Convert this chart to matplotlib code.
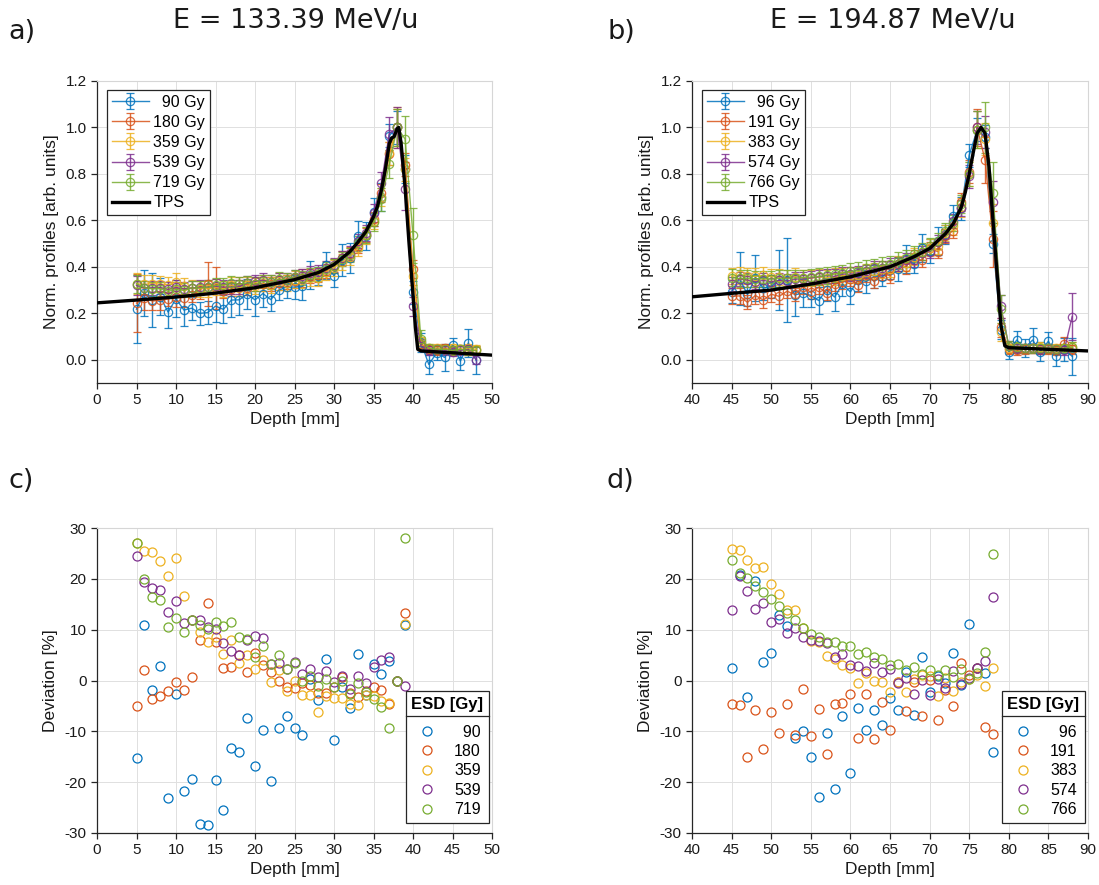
import matplotlib
matplotlib.use('Agg')
import matplotlib.pyplot as plt
from matplotlib.lines import Line2D
import numpy as np

plt.rcParams['font.family'] = ['Liberation Sans', 'DejaVu Sans']
plt.rcParams['axes.unicode_minus'] = False

W, H = 1099, 885
colors = ['#0072BD', '#D95319', '#EDB120', '#7E2F8E', '#77AC30']

# ---------------- panel a data ----------------
depth_a = list(range(5, 49))
dose_a = ['\u200790 Gy', '180 Gy', '359 Gy', '539 Gy', '719 Gy']
prof_a_90 = [0.218, 0.287, 0.257, 0.272, 0.205, 0.263, 0.214, 0.222, 0.200, 0.203, 0.231, 0.217, 0.257, 0.258, 0.282,
             0.258, 0.285, 0.259, 0.299, 0.314, 0.313, 0.316, 0.365, 0.361, 0.406, 0.362, 0.429, 0.439, 0.532, 0.534,
             0.635, 0.700, 0.965, 1.0, 0.82, 0.29, 0.075, -0.02, 0.03, 0.01, 0.065, -0.005, 0.072, -0.003]
prof_a_180 = [0.244, 0.264, 0.253, 0.256, 0.262, 0.269, 0.268, 0.278, 0.301, 0.326, 0.309, 0.298, 0.304, 0.315, 0.310,
              0.327, 0.326, 0.328, 0.330, 0.333, 0.340, 0.352, 0.361, 0.366, 0.381, 0.405, 0.438, 0.454, 0.489, 0.538,
              0.607, 0.717, 0.887, 1.0, 0.84, 0.39, 0.07, 0.045, 0.04, 0.05, 0.04, 0.045, 0.04, 0.04]
prof_a_359 = [0.327, 0.325, 0.328, 0.326, 0.322, 0.335, 0.319, 0.309, 0.306, 0.305, 0.312, 0.306, 0.320, 0.310, 0.321,
              0.317, 0.329, 0.322, 0.337, 0.330, 0.345, 0.344, 0.354, 0.352, 0.378, 0.396, 0.420, 0.444, 0.480, 0.535,
              0.597, 0.701, 0.888, 1.0, 0.82, 0.36, 0.08, 0.05, 0.05, 0.045, 0.05, 0.045, 0.05, 0.045]
prof_a_539 = [0.320, 0.309, 0.310, 0.311, 0.303, 0.312, 0.304, 0.309, 0.312, 0.313, 0.316, 0.313, 0.313, 0.315, 0.329,
              0.337, 0.343, 0.334, 0.342, 0.345, 0.358, 0.359, 0.372, 0.377, 0.397, 0.409, 0.439, 0.458, 0.510, 0.547,
              0.631, 0.760, 0.974, 1.0, 0.735, 0.23, 0.06, 0.04, 0.045, 0.04, 0.035, 0.04, 0.045, 0.0]
prof_a_719 = [0.327, 0.311, 0.305, 0.306, 0.295, 0.303, 0.299, 0.309, 0.309, 0.312, 0.320, 0.322, 0.330, 0.326, 0.330,
              0.325, 0.337, 0.334, 0.347, 0.344, 0.357, 0.354, 0.367, 0.371, 0.391, 0.405, 0.435, 0.453, 0.502, 0.537,
              0.593, 0.691, 0.843, 1.0, 0.95, 0.535, 0.09, 0.05, 0.045, 0.045, 0.04, 0.045, 0.04, 0.04]
err_a_90 = [0.145, 0.10, 0.115, 0.08, 0.07, 0.08, 0.07, 0.05, 0.05, 0.05, 0.07, 0.06, 0.075, 0.065, 0.065, 0.07, 0.06,
            0.05, 0.04, 0.05, 0.05, 0.06, 0.06, 0.04, 0.06, 0.05, 0.07, 0.065, 0.065, 0.06, 0.06, 0.06, 0.05, 0.07,
            0.06, 0.05, 0.04, 0.04, 0.03, 0.06, 0.03, 0.04, 0.06, 0.06]
err_a_180 = [0.125, 0.05, 0.04, 0.04, 0.03, 0.04, 0.04, 0.03, 0.04, 0.095, 0.09, 0.03, 0.03, 0.04, 0.03, 0.03, 0.03,
             0.03, 0.03, 0.03, 0.03, 0.04, 0.03, 0.03, 0.03, 0.03, 0.03, 0.03, 0.03, 0.03, 0.03, 0.04, 0.05, 0.08,
             0.05, 0.04, 0.02, 0.02, 0.02, 0.02, 0.02, 0.02, 0.02, 0.02]
err_a_359 = [0.045, 0.04, 0.035, 0.035, 0.035, 0.04, 0.035, 0.035, 0.035, 0.035, 0.035, 0.035, 0.035, 0.035, 0.035,
             0.035, 0.035, 0.035, 0.035, 0.035, 0.035, 0.035, 0.035, 0.035, 0.035, 0.035, 0.035, 0.035, 0.035, 0.035,
             0.035, 0.04, 0.05, 0.09, 0.05, 0.04, 0.02, 0.02, 0.02, 0.02, 0.02, 0.02, 0.02, 0.02]
err_a_539 = [0.04, 0.03, 0.03, 0.03, 0.03, 0.03, 0.03, 0.03, 0.03, 0.03, 0.03, 0.03, 0.03, 0.03, 0.03, 0.03, 0.03,
             0.03, 0.03, 0.03, 0.03, 0.03, 0.03, 0.03, 0.03, 0.03, 0.03, 0.03, 0.03, 0.035, 0.04, 0.05, 0.07, 0.09,
             0.09, 0.04, 0.02, 0.02, 0.02, 0.02, 0.02, 0.02, 0.02, 0.02]
err_a_719 = [0.04, 0.03, 0.03, 0.03, 0.03, 0.03, 0.03, 0.03, 0.03, 0.03, 0.03, 0.03, 0.03, 0.03, 0.03, 0.03, 0.03,
             0.03, 0.03, 0.03, 0.03, 0.03, 0.03, 0.03, 0.03, 0.03, 0.03, 0.03, 0.03, 0.035, 0.04, 0.05, 0.06, 0.08,
             0.10, 0.12, 0.04, 0.02, 0.02, 0.02, 0.02, 0.02, 0.02, 0.02]
tps_a_depth = [0, 5, 10, 15, 20, 25, 28, 30, 32, 33, 34, 35, 35.5, 36, 36.5, 37, 37.3, 37.6, 38, 38.2, 38.5, 39, 39.5,
               40, 40.3, 40.6, 41, 45, 50]
tps_a = [0.245, 0.257, 0.27, 0.287, 0.31, 0.345, 0.375, 0.41, 0.465, 0.505, 0.55, 0.615, 0.66, 0.73, 0.82, 0.93,
         0.955, 0.96, 0.995, 1.0, 0.93, 0.74, 0.5, 0.28, 0.14, 0.045, 0.038, 0.03, 0.02]

# ---------------- panel b data ----------------
depth_b = list(range(45, 89))
dose_b = ['\u200796 Gy', '191 Gy', '383 Gy', '574 Gy', '766 Gy']
prof_b_96 = [0.293, 0.349, 0.281, 0.352, 0.308, 0.316, 0.344, 0.343, 0.279, 0.288, 0.277, 0.255, 0.302, 0.270, 0.326,
             0.292, 0.345, 0.337, 0.359, 0.356, 0.386, 0.389, 0.434, 0.413, 0.482, 0.468, 0.510, 0.540, 0.618, 0.652,
             0.88, 0.99, 0.96, 0.50, 0.13, 0.035, 0.085, 0.05, 0.085, 0.035, 0.08, 0.015, 0.045, 0.015]
prof_b_191 = [0.273, 0.275, 0.247, 0.277, 0.257, 0.282, 0.273, 0.295, 0.281, 0.315, 0.290, 0.312, 0.288, 0.327, 0.334,
              0.347, 0.323, 0.363, 0.337, 0.374, 0.361, 0.412, 0.401, 0.442, 0.428, 0.479, 0.466, 0.533, 0.556, 0.679,
              0.81, 1.0, 0.86, 0.52, 0.14, 0.045, 0.04, 0.045, 0.05, 0.045, 0.045, 0.04, 0.07, 0.045]
prof_b_383 = [0.360, 0.363, 0.360, 0.359, 0.363, 0.357, 0.357, 0.353, 0.358, 0.353, 0.351, 0.356, 0.353, 0.358, 0.361,
              0.366, 0.364, 0.378, 0.381, 0.389, 0.391, 0.412, 0.417, 0.444, 0.465, 0.483, 0.489, 0.546, 0.574, 0.656,
              0.80, 0.99, 0.95, 0.59, 0.12, 0.05, 0.055, 0.05, 0.05, 0.055, 0.05, 0.05, 0.05, 0.055]
prof_b_574 = [0.325, 0.349, 0.343, 0.335, 0.342, 0.335, 0.342, 0.339, 0.347, 0.348, 0.352, 0.357, 0.362, 0.359, 0.369,
              0.368, 0.375, 0.380, 0.394, 0.396, 0.409, 0.411, 0.429, 0.431, 0.460, 0.466, 0.507, 0.535, 0.597, 0.652,
              0.79, 1.0, 0.98, 0.68, 0.23, 0.06, 0.05, 0.05, 0.05, 0.045, 0.05, 0.045, 0.04, 0.186]
prof_b_766 = [0.354, 0.350, 0.350, 0.349, 0.349, 0.348, 0.350, 0.351, 0.352, 0.353, 0.356, 0.359, 0.363, 0.369, 0.373,
              0.381, 0.384, 0.394, 0.399, 0.407, 0.412, 0.427, 0.436, 0.455, 0.466, 0.489, 0.511, 0.554, 0.590, 0.671,
              0.80, 0.99, 1.0, 0.72, 0.22, 0.06, 0.055, 0.05, 0.05, 0.05, 0.05, 0.045, 0.05, 0.055]
err_b_96 = [0.05, 0.115, 0.05, 0.10, 0.05, 0.05, 0.13, 0.18, 0.09, 0.06, 0.05, 0.06, 0.05, 0.06, 0.05, 0.05, 0.05,
            0.05, 0.05, 0.04, 0.04, 0.05, 0.06, 0.04, 0.06, 0.05, 0.06, 0.04, 0.05, 0.05, 0.05, 0.05, 0.05, 0.04,
            0.04, 0.03, 0.04, 0.04, 0.05, 0.04, 0.04, 0.04, 0.05, 0.08]
err_b_191 = [0.035, 0.035, 0.03, 0.035, 0.035, 0.035, 0.035, 0.03, 0.03, 0.03, 0.03, 0.03, 0.03, 0.03, 0.03, 0.03,
             0.03, 0.03, 0.03, 0.03, 0.03, 0.03, 0.03, 0.03, 0.03, 0.03, 0.03, 0.03, 0.03, 0.04, 0.05, 0.08, 0.10,
             0.12, 0.04, 0.02, 0.02, 0.02, 0.02, 0.02, 0.02, 0.02, 0.03, 0.02]
err_b_383 = [0.035, 0.035, 0.035, 0.035, 0.035, 0.035, 0.035, 0.035, 0.035, 0.035, 0.035, 0.035, 0.035, 0.035, 0.035,
             0.035, 0.035, 0.035, 0.035, 0.035, 0.035, 0.035, 0.035, 0.035, 0.035, 0.035, 0.035, 0.035, 0.035, 0.04,
             0.05, 0.08, 0.07, 0.08, 0.04, 0.02, 0.02, 0.02, 0.02, 0.02, 0.02, 0.02, 0.02, 0.02]
err_b_574 = [0.03, 0.03, 0.03, 0.03, 0.03, 0.03, 0.03, 0.03, 0.03, 0.03, 0.03, 0.03, 0.03, 0.03, 0.03, 0.03, 0.03,
             0.03, 0.03, 0.03, 0.03, 0.03, 0.03, 0.03, 0.03, 0.03, 0.03, 0.03, 0.03, 0.035, 0.05, 0.07, 0.07, 0.09,
             0.05, 0.02, 0.02, 0.02, 0.02, 0.02, 0.02, 0.02, 0.02, 0.10]
err_b_766 = [0.035, 0.035, 0.035, 0.035, 0.035, 0.035, 0.035, 0.035, 0.035, 0.035, 0.035, 0.035, 0.035, 0.035, 0.035,
             0.035, 0.035, 0.035, 0.035, 0.035, 0.035, 0.035, 0.035, 0.035, 0.035, 0.035, 0.035, 0.035, 0.035, 0.04,
             0.05, 0.08, 0.11, 0.13, 0.06, 0.02, 0.02, 0.02, 0.02, 0.02, 0.02, 0.02, 0.02, 0.02]
tps_b_depth = [40, 45, 50, 55, 60, 65, 68, 70, 72, 73, 74, 74.5, 75, 75.5, 76, 76.5, 77, 77.5, 78, 78.5, 79, 79.5,
               80, 85, 90]
tps_b = [0.271, 0.286, 0.30, 0.326, 0.357, 0.40, 0.443, 0.479, 0.543, 0.586, 0.657, 0.72, 0.80, 0.89, 0.975, 1.0,
         0.975, 0.83, 0.60, 0.38, 0.15, 0.06, 0.052, 0.045, 0.038]

# ---------------- panel c data (deviation %) ----------------
depth_c = list(range(5, 40))
esd_c = ['\u200790', '180', '359', '539', '719']
dev_c_90 = [-15.3, 10.9, -1.8, 2.9, -23.1, -2.6, -21.7, -19.4, -28.2, -28.4, -19.5, -25.4, -13.2, -14.0, -7.4, -16.9,
            -9.7, -19.8, -9.4, -6.9, -9.4, -10.7, 0.2, -3.8, 4.2, -11.7, -1.3, -5.5, 5.3, -2.9, 3.3, 1.3, 3.8, 0.0, 10.9]
dev_c_180 = [-5.1, 2.1, -3.6, -3.1, -2.0, -0.2, -1.8, 0.7, 8.0, 15.3, 7.6, 2.5, 2.6, 5.1, 1.7, 5.5, 3.1, 1.6, 0.0,
             -1.3, -1.4, -0.5, -0.8, -2.4, -2.4, -1.3, 0.7, -2.4, -3.2, -2.1, -1.3, -1.8, -4.6, 0.0, 13.3]
dev_c_359 = [27.1, 25.4, 25.2, 23.6, 20.6, 24.1, 16.7, 11.9, 9.6, 7.6, 8.6, 5.3, 8.0, 3.4, 5.1, 2.3, 4.0, -0.3, 2.0,
             -2.1, 0.0, -2.9, -2.8, -6.1, -3.1, -3.5, -3.5, -4.6, -4.9, -2.8, -3.0, -4.0, -4.5, 0.0, 11.1]
dev_c_539 = [24.4, 19.4, 18.2, 17.8, 13.4, 15.6, 11.3, 11.9, 11.9, 10.5, 10.1, 7.4, 5.9, 5.0, 7.9, 8.8, 8.4, 3.3, 3.5,
             2.3, 3.7, 1.3, 2.3, 0.6, 1.8, -0.3, 0.9, -1.6, 0.9, -0.5, 2.6, 4.1, 4.7, 0.0, -1.1]
dev_c_719 = [27.1, 19.9, 16.5, 15.8, 10.5, 12.3, 9.6, 11.9, 10.9, 10.2, 11.5, 10.7, 11.5, 8.5, 8.2, 4.7, 6.8, 3.3, 5.1,
             2.2, 3.4, -0.1, 0.9, -1.0, 0.2, -1.3, 0.0, -2.6, -0.5, -2.3, -3.6, -5.3, -9.4, 0.0, 28.0]

# ---------------- panel d data (deviation %) ----------------
depth_d = list(range(45, 79))
esd_d = ['\u200796', '191', '383', '574', '766']
dev_d_96 = [2.4, 20.8, -3.3, 19.6, 3.6, 5.4, 12.9, 10.8, -11.3, -10.0, -15.1, -22.9, -10.3, -21.4, -6.9, -18.2, -5.5,
            -9.7, -5.9, -8.7, -3.5, -5.9, 1.7, -6.7, 4.7, -2.2, 0.9, -0.5, 5.5, -0.8, 11.1, 2.5, 1.4, -14.0]
dev_d_191 = [-4.6, -4.9, -15.1, -5.9, -13.5, -6.1, -10.4, -4.7, -10.7, -1.6, -10.9, -5.7, -14.4, -4.7, -4.5, -2.7,
             -11.4, -2.7, -11.5, -4.2, -9.7, -0.3, -6.0, -0.3, -6.9, 0.1, -7.8, -1.9, -5.1, 3.4, 1.1, 2.5, -9.1, -10.5]
dev_d_383 = [25.8, 25.6, 23.8, 22.1, 22.3, 19.0, 17.0, 13.9, 13.8, 10.3, 7.8, 7.5, 4.8, 4.3, 3.0, 2.4, -0.4, 1.4,
             -0.1, -0.3, -2.2, -0.2, -2.3, 0.2, 1.0, 0.9, -3.1, 0.5, -2.1, -0.2, 0.2, 1.0, -1.1, 2.4]
dev_d_574 = [13.8, 20.6, 17.7, 14.1, 15.3, 11.5, 12.1, 9.4, 10.3, 8.6, 8.0, 7.8, 7.3, 4.6, 5.3, 3.1, 2.8, 1.8, 3.5,
             1.6, 2.2, -0.5, 0.5, -2.6, 0.1, -2.8, 0.3, -1.5, 1.8, -0.7, 0.5, 2.5, 3.9, 16.5]
dev_d_766 = [23.8, 21.1, 20.2, 18.6, 17.4, 16.0, 14.7, 13.3, 11.9, 10.3, 9.2, 8.6, 7.6, 7.6, 6.7, 6.7, 5.3, 5.6, 4.7,
             4.3, 3.0, 3.3, 2.0, 2.6, 1.3, 2.1, 1.1, 2.1, 0.7, 2.2, 0.2, 1.4, 5.7, 24.8]

TICK_FS = 11
LABEL_FS = 12.5
LEG_FS = 11.5
DARK = '#262626'


def style(ax):
    ax.grid(True, color='#e0e0e0', lw=0.7)
    ax.set_axisbelow(True)
    for s in ['top', 'right']:
        ax.spines[s].set_color('#d6d6d6')
        ax.spines[s].set_linewidth(0.8)
    for s in ['left', 'bottom']:
        ax.spines[s].set_color(DARK)
        ax.spines[s].set_linewidth(0.9)
    ax.tick_params(direction='out', length=4, width=0.9, colors=DARK, labelsize=TICK_FS,
                   labelcolor='#1a1a1a', top=False, right=False)


def box(l, t, r, b):
    return [l / W, 1 - b / H, (r - l) / W, (b - t) / H]


fig = plt.figure(figsize=(W / 100, H / 100), dpi=100)
axA = fig.add_axes(box(97, 81, 492, 383))
axB = fig.add_axes(box(692, 81, 1088, 383))
axC = fig.add_axes(box(97, 528, 492, 833))
axD = fig.add_axes(box(692, 528, 1088, 833))


def profile_panel(ax, depth, profs, errs, labels, tdepth, tvals, xlim):
    handles = []
    for p, e, c, lab in zip(profs, errs, colors, labels):
        h = ax.errorbar(depth, p, yerr=e, fmt='-o', color=c, mfc='none', ms=6, mew=0.9, lw=1.0,
                        elinewidth=1.0, capsize=2.8, capthick=1.0, alpha=0.85, label=lab)
        handles.append(h)
    t, = ax.plot(tdepth, tvals, color='black', lw=2.4, label='TPS', zorder=5)
    handles.append(t)
    style(ax)
    ax.set_xlim(*xlim)
    ax.set_ylim(-0.1, 1.2)
    ax.set_xticks(np.arange(xlim[0], xlim[1] + 1, 5))
    ax.set_yticks(np.arange(0, 1.21, 0.2))
    ax.set_yticklabels([f'{v:.1f}' for v in np.arange(0, 1.21, 0.2)])
    ax.set_xlabel('Depth [mm]', fontsize=LABEL_FS, color='#1a1a1a', labelpad=3)
    ax.set_ylabel('Norm. profiles [arb. units]', fontsize=LABEL_FS, color='#1a1a1a', labelpad=5)
    leg = ax.legend(handles=handles, loc='upper left', bbox_to_anchor=(10 / 395, 1 - 9 / 302),
                    borderaxespad=0, fontsize=LEG_FS, handlelength=2.3, handletextpad=0.3,
                    labelspacing=0.32, borderpad=0.3, fancybox=False, framealpha=1, edgecolor=DARK)
    leg.get_frame().set_linewidth(0.9)


def dev_panel(ax, depth, devs, labels, xlim):
    for d, c, lab in zip(devs, colors, labels):
        ax.plot(depth, d, 'o', mfc='none', color=c, ms=6.5, mew=0.9, label=lab)
    style(ax)
    ax.set_xlim(*xlim)
    ax.set_ylim(-30, 30)
    ax.set_xticks(np.arange(xlim[0], xlim[1] + 1, 5))
    ax.set_yticks(np.arange(-30, 31, 10))
    ax.set_xlabel('Depth [mm]', fontsize=LABEL_FS, color='#1a1a1a', labelpad=3)
    ax.set_ylabel('Deviation [%]', fontsize=LABEL_FS, color='#1a1a1a', labelpad=5)
    leg = ax.legend(loc='lower right', bbox_to_anchor=(1 - 3 / 395, 10 / 305), borderaxespad=0,
                    fontsize=LEG_FS, title='ESD [Gy]',
                    title_fontproperties={'weight': 'bold', 'size': LEG_FS + 0.5},
                    handlelength=1.6, handletextpad=0.9, labelspacing=0.28, borderpad=0.35,
                    numpoints=1, fancybox=False, framealpha=1, edgecolor=DARK)
    leg.get_frame().set_linewidth(0.9)
    leg._legend_box.sep = 9
    return leg


profile_panel(axA, depth_a, [prof_a_90, prof_a_180, prof_a_359, prof_a_539, prof_a_719],
              [err_a_90, err_a_180, err_a_359, err_a_539, err_a_719], dose_a, tps_a_depth, tps_a, (0, 50))
profile_panel(axB, depth_b, [prof_b_96, prof_b_191, prof_b_383, prof_b_574, prof_b_766],
              [err_b_96, err_b_191, err_b_383, err_b_574, err_b_766], dose_b, tps_b_depth, tps_b, (40, 90))
legC = dev_panel(axC, depth_c, [dev_c_90, dev_c_180, dev_c_359, dev_c_539, dev_c_719], esd_c, (0, 50))
legD = dev_panel(axD, depth_d, [dev_d_96, dev_d_191, dev_d_383, dev_d_574, dev_d_766], esd_d, (40, 90))

# titles and panel letters
tfont = dict(family='DejaVu Sans', fontsize=19.5, color='#1a1a1a')
fig.text(296 / W, 1 - 28 / H, 'E = 133.39 MeV/u', ha='center', va='baseline', **tfont)
fig.text(893 / W, 1 - 28 / H, 'E = 194.87 MeV/u', ha='center', va='baseline', **tfont)
fig.text(8 / W, 1 - 39 / H, 'a)', ha='left', va='baseline', **tfont)
fig.text(607 / W, 1 - 39 / H, 'b)', ha='left', va='baseline', **tfont)
fig.text(8 / W, 1 - 488 / H, 'c)', ha='left', va='baseline', **tfont)
fig.text(607 / W, 1 - 488 / H, 'd)', ha='left', va='baseline', **tfont)

# separator line under legend titles
fig.canvas.draw()
inv = fig.transFigure.inverted()
for leg in (legC, legD):
    bb = leg.get_frame().get_window_extent()
    tb = leg.get_title().get_window_extent()
    y = tb.y0 - 4
    (x0, yy), (x1, _) = inv.transform([(bb.x0, y), (bb.x1, y)])
    fig.add_artist(Line2D([x0, x1], [yy, yy], color=DARK, lw=0.9, transform=fig.transFigure, zorder=10))

fig.savefig('out.png', dpi=100)
